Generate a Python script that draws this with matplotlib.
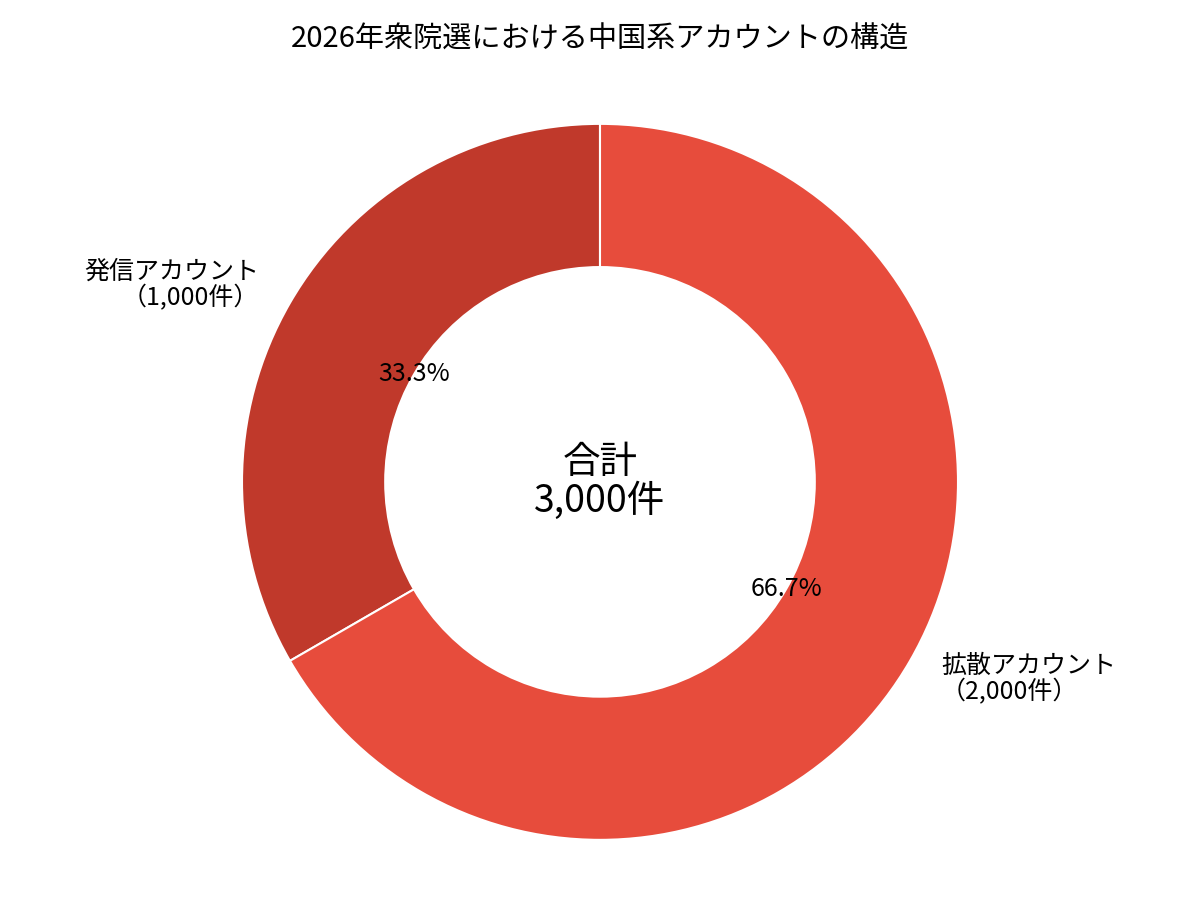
import matplotlib.pyplot as plt

plt.rcParams['font.family'] = ['Noto Sans CJK JP', 'DejaVu Sans']

labels = ['発信アカウント\n（1,000件）', '拡散アカウント\n（2,000件）']
counts = [1000, 2000]
colors = ['#C0392B', '#E74C3C']
total = sum(counts)

fig = plt.figure(figsize=(8, 6), dpi=150)
ax = fig.add_axes([0, 0, 1, 1])

wedges, texts, autotexts = ax.pie(
    counts, labels=labels, colors=colors, startangle=90,
    autopct='%1.1f%%', pctdistance=0.6, labeldistance=1.1,
    wedgeprops=dict(width=0.4, edgecolor='white', linewidth=1),
    textprops=dict(fontsize=12))
for t in texts:
    t.set_linespacing(1.0)

ax.text(0, 0, '合計\n{:,}件'.format(total), ha='center', va='center',
        fontsize=18, linespacing=1.0)

# keep the ring where it sits in the reference
ax.set_xlim(-1.676, 1.676)
ax.set_ylim(-1.168, 1.346)
ax.set_aspect('equal')
ax.axis('off')

fig.text(0.5, 0.956, '2026年衆院選における中国系アカウントの構造',
         ha='center', va='center', fontsize=14)

fig.savefig('out.png', dpi=150)
